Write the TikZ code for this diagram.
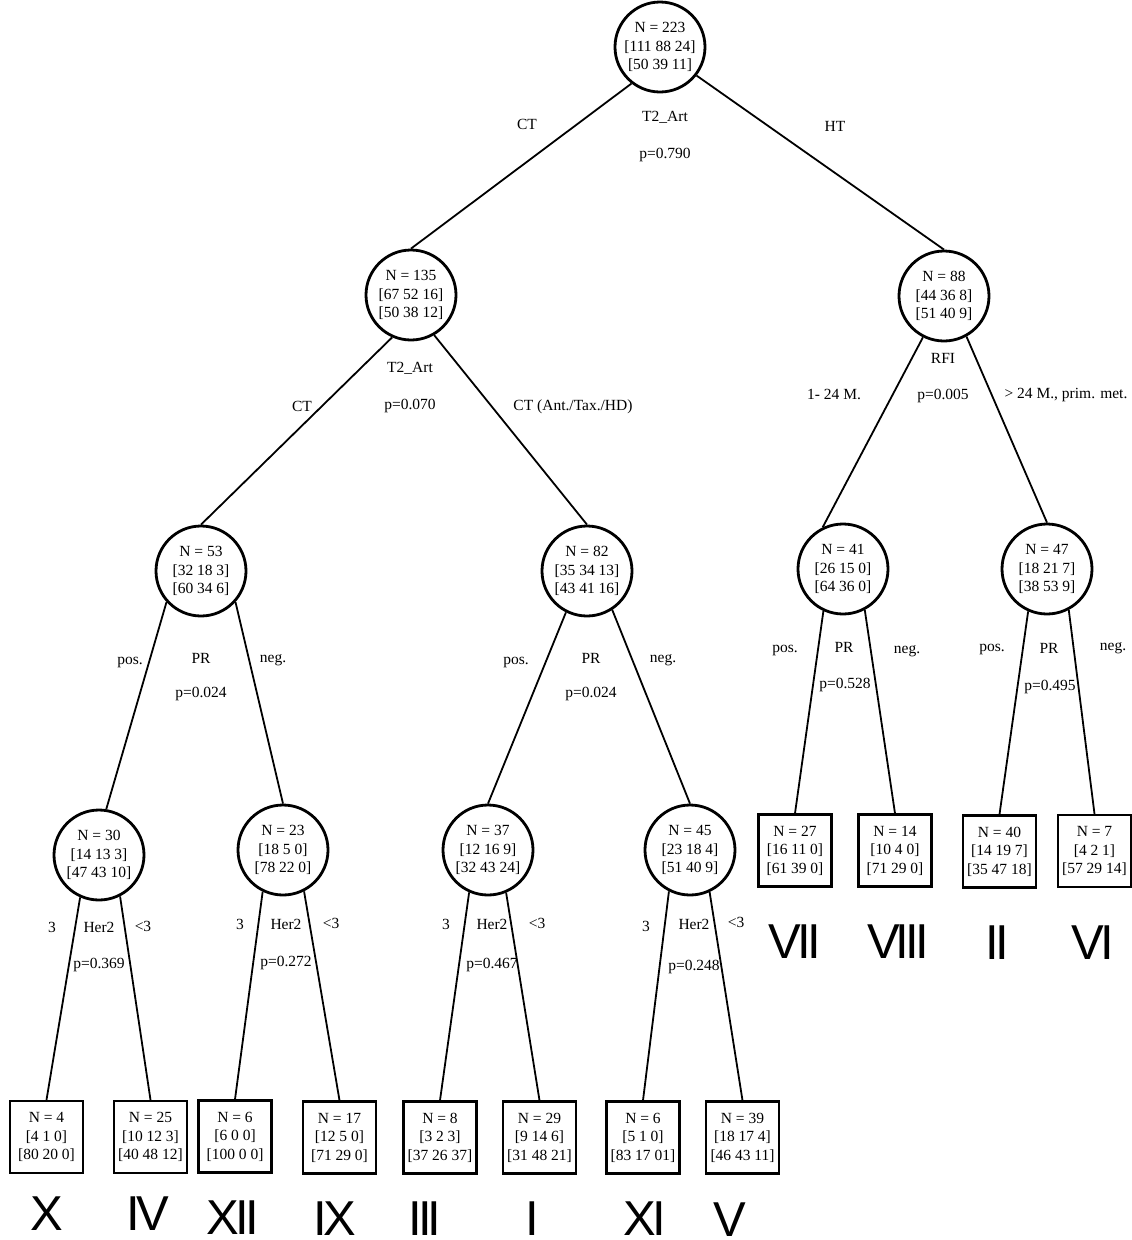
\documentclass[tikz,border=0pt]{standalone}
\usepackage{fontspec}
\setmainfont{Liberation Serif}
\newfontfamily\numfont[LetterSpace=-8]{Liberation Sans}
\begin{document}
\begin{tikzpicture}[x=1pt,y=-1pt,
  every node/.style={font=\fontsize{15.5}{18.5}\selectfont},
  circ/.style={circle,draw,line width=2.8pt,minimum size=90pt,inner sep=0pt,align=center},
  leaf/.style={rectangle,draw,line width=2.3pt,minimum width=73pt,minimum height=72pt,inner sep=0pt,align=center},
  lbl/.style={inner sep=0pt,anchor=base},
  rn/.style={inner sep=0pt,anchor=base,text depth=0pt,font=\numfont\fontsize{49}{49}\selectfont},
  edge/.style={line width=1.8pt}
]
\useasboundingbox (0,0) rectangle (1132,1240);

% inner nodes
\node[circ] (n223) at (660,47) {N = 223\\{[111 88 24]}\\{[50 39 11]}};
\node[circ] (n135) at (411,295) {N = 135\\{[67 52 16]}\\{[50 38 12]}};
\node[circ] (n88) at (944,296) {N = 88\\{[44 36 8]}\\{[51 40 9]}};
\node[circ] (n53) at (201,571) {N = 53\\{[32 18 3]}\\{[60 34 6]}};
\node[circ] (n82) at (587,571) {N = 82\\{[35 34 13]}\\{[43 41 16]}};
\node[circ] (n41) at (843,569) {N = 41\\{[26 15 0]}\\{[64 36 0]}};
\node[circ] (n47) at (1047,569) {N = 47\\{[18 21 7]}\\{[38 53 9]}};
\node[circ] (n30) at (99,855) {N = 30\\{[14 13 3]}\\{[47 43 10]}};
\node[circ] (n23) at (283,850) {N = 23\\{[18 5 0]}\\{[78 22 0]}};
\node[circ] (n37) at (488,850) {N = 37\\{[12 16 9]}\\{[32 43 24]}};
\node[circ] (n45) at (690,850) {N = 45\\{[23 18 4]}\\{[51 40 9]}};

% leaves
\node[leaf] (l27) at (795,850.5) {N = 27\\{[16 11 0]}\\{[61 39 0]}};
\node[leaf] (l14) at (895,850.5) {N = 14\\{[10 4 0]}\\{[71 29 0]}};
\node[leaf] (l40) at (999.5,851.5) {N = 40\\{[14 19 7]}\\{[35 47 18]}};
\node[leaf] (l7) at (1094.5,851) {N = 7\\{[4 2 1]}\\{[57 29 14]}};
\node[leaf] (l4) at (46.5,1137) {N = 4\\{[4 1 0]}\\{[80 20 0]}};
\node[leaf] (l25) at (150.5,1137) {N = 25\\{[10 12 3]}\\{[40 48 12]}};
\node[leaf] (l6) at (235,1136.5) {N = 6\\{[6 0 0]}\\{[100 0 0]}};
\node[leaf] (l17) at (339.5,1137.5) {N = 17\\{[12 5 0]}\\{[71 29 0]}};
\node[leaf] (l8) at (440,1137.5) {N = 8\\{[3 2 3]}\\{[37 26 37]}};
\node[leaf] (l29) at (539.5,1137.5) {N = 29\\{[9 14 6]}\\{[31 48 21]}};
\node[leaf] (l6b) at (643,1137.5) {N = 6\\{[5 1 0]}\\{[83 17 01]}};
\node[leaf] (l39) at (742.5,1137.5) {N = 39\\{[18 17 4]}\\{[46 43 11]}};

% edges
\draw[edge] (n223.232) -- (n135.90);
\draw[edge] (n223.322) -- (n88.90);
\draw[edge] (n135.246) -- (n53.90);
\draw[edge] (n135.300) -- (n82.90);
\draw[edge] (n88.243) -- (n41.116);
\draw[edge] (n88.299) -- (n47.90);
\draw[edge] (n53.222) -- (n30.81);
\draw[edge] (n53.318) -- (n23.90);
\draw[edge] (n82.243) -- (n37.90);
\draw[edge] (n82.303) -- (n45.90);
\draw[edge] (n41.245) -- (l27.north);
\draw[edge] (n41.298) -- (l14.north);
\draw[edge] (n47.246) -- (l40.north);
\draw[edge] (n47.298) -- (l7.north);
\draw[edge] (n30.246) -- (l4.north);
\draw[edge] (n30.297) -- (l25.north);
\draw[edge] (n23.244) -- (l6.north);
\draw[edge] (n23.297) -- (l17.north);
\draw[edge] (n37.246) -- (l8.north);
\draw[edge] (n37.293) -- (l29.north);
\draw[edge] (n45.243) -- (l6b.north);
\draw[edge] (n45.295) -- (l39.north);

% labels
\node[lbl] (a1) at (527,129) {CT};
\node[lbl] (a2) at (665,121) {T2\_Art};
\node[lbl] (a3) at (665,158) {p=0.790};
\node[lbl] (a4) at (835,131) {HT};
\node[lbl] (b1) at (302,411) {CT};
\node[lbl] (b2) at (410,372) {T2\_Art};
\node[lbl] (b3) at (410,409) {p=0.070};
\node[lbl] (b4) at (573,410) {CT (Ant./Tax./HD)};
\node[lbl] (c1) at (834,399) {1- 24 M.};
\node[lbl] (c2) at (943,363) {RFI};
\node[lbl] (c3) at (943,399) {p=0.005};
\node[lbl] (c4) at (1066,398) {> 24 M., prim. met.};
\node[lbl] (d1) at (130,664) {pos.};
\node[lbl] (d2) at (201,663) {PR};
\node[lbl] (d3) at (201,697) {p=0.024};
\node[lbl] (d4) at (273,662) {neg.};
\node[lbl] (e1) at (516,664) {pos.};
\node[lbl] (e2) at (591,663) {PR};
\node[lbl] (e3) at (591,697) {p=0.024};
\node[lbl] (e4) at (663,662) {neg.};
\node[lbl] (f1) at (785,652) {pos.};
\node[lbl] (f2) at (844,652) {PR};
\node[lbl] (f3) at (845,688) {p=0.528};
\node[lbl] (f4) at (907,653) {neg.};
\node[lbl] (g1) at (992,651) {pos.};
\node[lbl] (g2) at (1049,653) {PR};
\node[lbl] (g3) at (1050,690) {p=0.495};
\node[lbl] (g4) at (1113,650) {neg.};
\node[lbl] (h1) at (52,932) {3};
\node[lbl] (h2) at (99,932) {Her2};
\node[lbl] (h3) at (143,931) {<3};
\node[lbl] (h4) at (99,968) {p=0.369};
\node[lbl] (i1) at (240,929) {3};
\node[lbl] (i2) at (286,929) {Her2};
\node[lbl] (i3) at (331,928) {<3};
\node[lbl] (i4) at (286,966) {p=0.272};
\node[lbl] (j1) at (446,929) {3};
\node[lbl] (j2) at (492,929) {Her2};
\node[lbl] (j3) at (537,928) {<3};
\node[lbl] (j4) at (492,968) {p=0.467};
\node[lbl] (k1) at (646,931) {3};
\node[lbl] (k2) at (694,929) {Her2};
\node[lbl] (k3) at (736,927) {<3};
\node[lbl] (k4) at (694,970) {p=0.248};

% roman numerals
\node[rn] (r7) at (795,958) {VII};
\node[rn] (r8) at (898,958) {VIII};
\node[rn] (r2) at (997,959) {II};
\node[rn] (r6) at (1093,959) {VI};
\node[rn] (r10) at (47,1230) {X};
\node[rn] (r4) at (148,1230) {IV};
\node[rn] (r12) at (233,1234) {XII};
\node[rn] (r9) at (335,1235) {IX};
\node[rn] (r3) at (425,1235) {III};
\node[rn] (r1) at (532,1235) {I};
\node[rn] (r11) at (645,1235) {XI};
\node[rn] (r5) at (730,1236) {V};
\end{tikzpicture}
\end{document}
